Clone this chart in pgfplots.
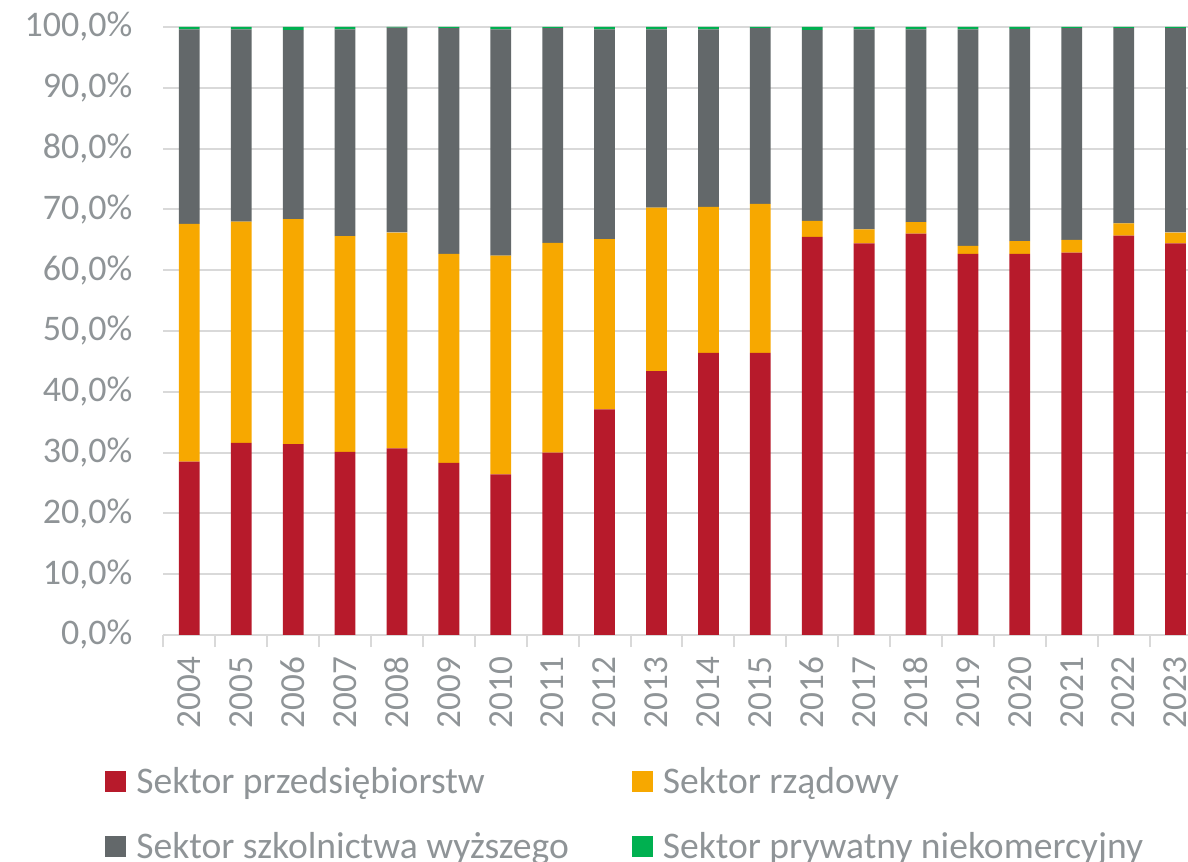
\documentclass[border=0pt]{standalone}
\usepackage{pgfplots}
\usepackage{pgfplotstable}
\pgfplotsset{compat=1.18}
\usepackage{fontspec}
\setmainfont{Carlito}

\definecolor{przed}{HTML}{B71A2B}
\definecolor{rzad}{HTML}{F7A800}
\definecolor{szkol}{HTML}{63686A}
\definecolor{pryw}{HTML}{00B050}
\definecolor{txt}{RGB}{143,148,151}
\definecolor{gridc}{RGB}{217,217,217}

% x = 0..19 -> 2004..2023, udzialy w %
\pgfplotstableread{
x  przed rzad szkol pryw
0  28.5  39.1 32.0  0.4
1  31.6  36.4 31.6  0.4
2  31.4  37.0 31.1  0.5
3  30.1  35.5 34.0  0.4
4  30.7  35.5 33.7  0.1
5  28.3  34.4 37.1  0.2
6  26.4  36.0 37.2  0.4
7  30.0  34.5 35.3  0.2
8  37.1  28.0 34.5  0.4
9  43.4  26.9 29.3  0.4
10 46.4  24.0 29.2  0.4
11 46.4  24.5 28.9  0.2
12 65.5  2.6  31.4  0.5
13 64.4  2.3  32.9  0.4
14 66.0  1.9  31.7  0.4
15 62.7  1.3  35.6  0.4
16 62.7  2.1  34.9  0.3
17 62.9  2.1  34.8  0.2
18 65.7  2.0  32.1  0.2
19 64.4  1.8  33.6  0.2
}\dane

\begin{document}
\begin{tikzpicture}
\path[use as bounding box] (0,0) rectangle (594bp,431bp);
\clip (0,0) rectangle (594bp,431bp);
\begin{axis}[
  scale only axis,
  width=512.3bp, height=304bp,
  at={(81.7bp,113.5bp)}, anchor=south west,
  xmin=-0.5, xmax=19.24,
  ymin=0, ymax=100,
  ybar stacked, bar width=0.4,
  axis x line*=bottom, axis y line*=left,
  y axis line style={draw=none},
  x axis line style={draw=gridc, line width=1bp},
  ymajorgrids, grid style={draw=gridc, line width=1bp},
  xtick={0,...,19},
  xticklabels={2004,2005,2006,2007,2008,2009,2010,2011,2012,2013,2014,2015,2016,2017,2018,2019,2020,2021,2022,2023},
  minor xtick={-0.5,0.5,...,19.5},
  major tick length=0pt, minor tick length=6bp,
  tick align=outside,
  tick style={draw=gridc, line width=1bp},
  ytick={0,10,...,100},
  /pgf/number format/assume math mode=true,
  yticklabel={\pgfmathprintnumber[fixed,fixed zerofill,precision=1,use comma,assume math mode=true]{\tick}\%},
  ticklabel style={font=\fontsize{18bp}{21bp}\selectfont, text=txt},
  yticklabel style={xshift=-12bp},
  xticklabel style={yshift=-7.5bp, rotate=90, anchor=east, font=\fontsize{17.6bp}{21bp}\selectfont},
  legend columns=2,
  legend cell align=left,
  legend style={at={(axis description cs:-0.0628,-0.2035)}, anchor=north west,
    draw=none, fill=none, font=\fontsize{18.8bp}{22bp}\selectfont, text=txt,
    /tikz/every even column/.append style={column sep=29.5bp},
    row sep=14bp},
  legend image code/.code={\fill[#1] (0bp,-5.25bp) rectangle (10.5bp,5.25bp); \path (13.5bp,0bp);},
]
\addplot[fill=przed, draw=none] table[x=x, y=przed] {\dane};
\addplot[fill=rzad, draw=none] table[x=x, y=rzad] {\dane};
\addplot[fill=szkol, draw=none] table[x=x, y=szkol] {\dane};
\addplot[fill=pryw, draw=none] table[x=x, y=pryw] {\dane};
\legend{Sektor przedsiębiorstw, Sektor rządowy, Sektor szkolnictwa wyższego, Sektor prywatny niekomercyjny}
\end{axis}
\end{tikzpicture}
\end{document}
